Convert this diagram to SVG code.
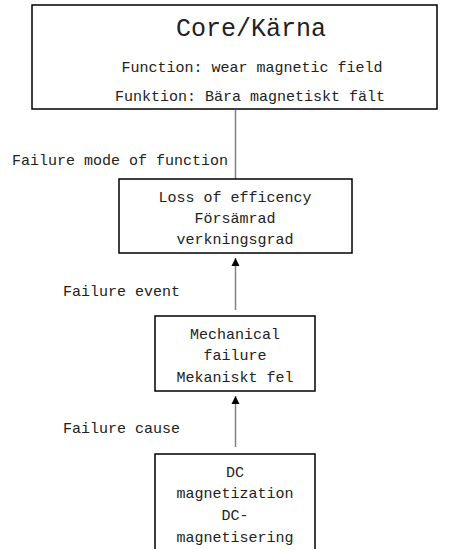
<svg xmlns="http://www.w3.org/2000/svg" width="467" height="549" viewBox="0 0 467 549">
<style>
.box{fill:#fff;stroke:#000;stroke-width:1.5}
.t{font-family:"Liberation Mono","Courier New",monospace;font-size:15px;fill:#222;text-anchor:middle}
.l{font-family:"Liberation Mono","Courier New",monospace;font-size:15px;fill:#222}
.title{font-size:25px}
.c{stroke:#808080;stroke-width:1.5;fill:none}
</style>
<defs>
<marker id="ah" markerWidth="10" markerHeight="10" refX="8" refY="5" orient="auto" markerUnits="userSpaceOnUse">
<path d="M0,1 L8,5 L0,9 Z" fill="#000"/>
</marker>
</defs>
<rect width="467" height="549" fill="#fff"/>
<g id="connectors">
<line class="c" x1="235.5" y1="110" x2="235.5" y2="179"/>
<line class="c" x1="235.5" y1="310" x2="235.5" y2="258" marker-end="url(#ah)"/>
<line class="c" x1="235.5" y1="447" x2="235.5" y2="396" marker-end="url(#ah)"/>
<text class="l" x="12" y="165">Failure mode of function</text>
<text class="l" x="63" y="296">Failure event</text>
<text class="l" x="63" y="433">Failure cause</text>
</g>
<g id="core">
<rect class="box" x="32" y="5" width="405" height="104"/>
<text class="t title" x="251" y="36">Core/Kärna</text>
<text class="t" x="252" y="72">Function: wear magnetic field</text>
<text class="t" x="250" y="101">Funktion: Bära magnetiskt fält</text>
</g>
<g id="loss">
<rect class="box" x="119" y="179" width="233" height="74"/>
<text class="t" x="235" y="202">Loss of efficency</text>
<text class="t" x="235" y="223">Försämrad</text>
<text class="t" x="235" y="244">verkningsgrad</text>
</g>
<g id="mechanical">
<rect class="box" x="155" y="316" width="160" height="75"/>
<text class="t" x="235" y="339">Mechanical</text>
<text class="t" x="235" y="360">failure</text>
<text class="t" x="235" y="382">Mekaniskt fel</text>
</g>
<g id="dc">
<rect class="box" x="155" y="454" width="160" height="110"/>
<text class="t" x="235" y="477">DC</text>
<text class="t" x="235" y="498">magnetization</text>
<text class="t" x="235" y="520">DC-</text>
<text class="t" x="235" y="542">magnetisering</text>
</g>
</svg>
